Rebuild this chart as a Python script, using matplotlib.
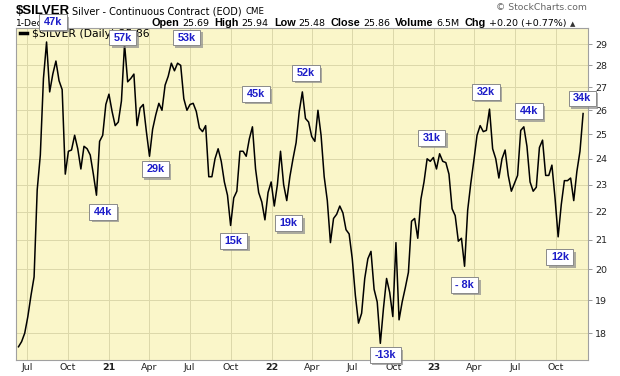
import matplotlib
matplotlib.use("Agg")
import matplotlib.pyplot as plt
import matplotlib.patheffects as pe
from matplotlib.ticker import NullLocator
import pandas as pd

# ---- weekly closes (Fridays, from 2020-06-12) ----
closes_2020 = [17.6, 17.75, 18.0, 18.5, 19.15, 19.75, 22.8, 24.15, 27.4, 29.1,
               26.8, 27.6, 28.2, 27.3, 26.9, 23.4, 24.3, 24.35, 24.95, 24.4,
               23.6, 24.5, 24.4, 24.15, 23.4, 22.6, 24.7, 24.95, 26.25]
closes_2021 = [26.7, 25.95, 25.35, 25.5, 26.4, 29.0, 27.25, 27.4, 27.6, 25.35,
               26.1, 26.25, 25.1, 24.1, 25.2, 25.8, 26.3, 26.0, 27.1, 27.5,
               28.1, 27.75, 28.1, 28.0, 26.5, 26.0, 26.25, 26.3, 25.95, 25.25,
               25.1, 25.35, 23.3, 23.3, 24.0, 24.4, 23.9, 23.1, 22.6, 21.5,
               22.5, 22.75, 24.3, 24.3, 24.1, 24.8, 25.3, 23.6, 22.7, 22.35,
               21.7, 22.7, 23.1]
closes_2022 = [22.2, 23.0, 24.3, 23.0, 22.4, 23.3, 24.0, 24.65, 25.95, 26.8,
               25.65, 25.5, 24.9, 24.7, 26.0, 24.95, 23.3, 22.4, 20.9, 21.75,
               21.9, 22.2, 21.95, 21.35, 21.2, 20.35, 19.15, 18.3, 18.6, 19.7,
               20.35, 20.6, 19.35, 18.95, 17.7, 18.75, 19.7, 19.25, 18.5, 20.9,
               18.4, 18.95, 19.4, 19.9, 21.65, 21.75, 21.05, 22.45, 23.1, 24.0,
               23.9, 24.05]
closes_2023 = [23.6, 24.2, 23.9, 23.85, 23.4, 22.1, 21.85, 20.95, 21.05, 20.1,
               22.05, 23.05, 23.95, 24.95, 25.35, 25.1, 25.15, 26.05, 24.4, 24.0,
               23.25, 24.0, 24.35, 23.35, 22.75, 23.05, 23.35, 25.15, 25.3, 24.5,
               23.1, 22.75, 22.9, 24.45, 24.75, 23.35, 23.35, 23.75, 22.5, 21.1,
               22.25, 23.15, 23.15, 23.25, 22.4, 23.5, 24.3, 25.86]

# ---- annotation boxes ----
ann_labels = ["47k", "44k", "57k", "29k", "53k", "15k", "45k", "19k", "52k",
              "-13k", "31k", "- 8k", "32k", "44k", "12k", "34k"]
ann_dates = ["2020-08-28", "2020-12-19", "2021-02-01", "2021-04-15", "2021-06-24",
             "2021-10-08", "2021-11-27", "2022-02-08", "2022-03-19", "2022-09-13",
             "2022-12-26", "2023-03-10", "2023-04-27", "2023-08-02", "2023-10-10",
             "2023-11-29"]
ann_prices = [30.07, 21.98, 29.31, 23.59, 29.31, 20.95, 26.70, 21.58, 27.65,
              17.36, 24.84, 19.49, 26.79, 25.96, 20.40, 26.51]

# ---- axes ticks ----
y_ticks = [18, 19, 20, 21, 22, 23, 24, 25, 26, 27, 28, 29]
x_tick_dates = ["2020-07-01", "2020-10-01", "2021-01-01", "2021-04-01", "2021-07-01",
                "2021-10-01", "2022-01-01", "2022-04-01", "2022-07-01", "2022-10-01",
                "2023-01-01", "2023-04-01", "2023-07-01", "2023-10-01"]
x_tick_labels = ["Jul", "Oct", "21", "Apr", "Jul", "Oct", "22", "Apr", "Jul", "Oct",
                 "23", "Apr", "Jul", "Oct"]

# ---- header quote ----
quote_names = ["Open", "High", "Low", "Close", "Volume", "Chg"]
quote_values = ["25.69", "25.94", "25.48", "25.86", "6.5M", "+0.20 (+0.77%)"]

closes = closes_2020 + closes_2021 + closes_2022 + closes_2023
dates = pd.date_range("2020-06-12", periods=len(closes), freq="W-FRI")

W, H = 620, 376
fig = plt.figure(figsize=(W / 100, H / 100), dpi=100)
fig.patch.set_facecolor("white")
ax = fig.add_axes([16 / W, 16 / H, 572 / W, 332 / H])
ax.set_facecolor("#faf6c9")

line, = ax.plot(dates, closes, color="black", lw=1.1, zorder=3)

ax.set_yscale("log")
ax.set_ylim(17.22, 29.78)
ax.set_yticks(y_ticks, [str(v) for v in y_ticks])
ax.yaxis.set_minor_locator(NullLocator())
ax.yaxis.tick_right()

ax.set_xlim(pd.Timestamp("2020-06-06 10:00"), pd.Timestamp("2023-12-12"))
ax.set_xticks(pd.to_datetime(x_tick_dates), x_tick_labels)
ax.xaxis.set_minor_locator(NullLocator())

ax.grid(True, which="major", color="#dcd8aa", lw=0.7, zorder=0)
ax.set_axisbelow(True)
for s in ax.spines.values():
    s.set_color("#a0a0a0")
    s.set_linewidth(0.8)

ax.tick_params(axis="y", which="major", length=3, width=0.6, color="#888888",
               pad=2, labelsize=6.8, labelcolor="#222222")
ax.tick_params(axis="x", which="major", length=0, pad=2.5, labelsize=6.8,
               labelcolor="#222222")
for lbl in ax.get_xticklabels():
    if lbl.get_text().isdigit():
        lbl.set_fontweight("bold")

# legend
leg = ax.legend([line], [r"\$SILVER (Daily) 25.86"], loc="upper left",
                bbox_to_anchor=(4 / 572, 1 - 1 / 332), frameon=False,
                fontsize=7.8, handlelength=0.65, handletextpad=0.45,
                borderpad=0, borderaxespad=0)
leg.get_lines()[0].set_linewidth(2.5)
leg.set_zorder(5)

# annotation boxes
for lab, d, p in zip(ann_labels, ann_dates, ann_prices):
    t = ax.text(pd.Timestamp(d), p, lab, ha="center", va="center",
                fontsize=7.8, fontweight="bold", family="Liberation Sans",
                color="#1c1cc8", zorder=10, clip_on=False,
                bbox=dict(boxstyle="square,pad=0.42", fc="white", ec="#8a8a8a",
                          lw=0.7, mutation_aspect=0.62))
    t.get_bbox_patch().set_path_effects(
        [pe.withSimplePatchShadow(offset=(1.8, -1.8), shadow_rgbFace="#8c8c8c", alpha=0.7)])

# header texts (drawn beneath the axes so the boxes can cover them)
def fx(x):
    return x / W

def fy(y):
    return 1 - y / H

fig.text(fx(16), fy(14), r"\$SILVER", fontsize=9.5, fontweight="bold",
         family="Liberation Sans", va="baseline", ha="left", zorder=-1)
fig.text(fx(72.5), fy(14), "Silver - Continuous Contract (EOD)", fontsize=7,
         va="baseline", ha="left", zorder=-1)
fig.text(fx(246), fy(14), "CME", fontsize=6.2, va="baseline", ha="left", zorder=-1)
fig.text(fx(587), fy(10), "\u00a9 StockCharts.com", fontsize=6.7, color="#666666",
         va="baseline", ha="right", zorder=-1)
fig.text(fx(16), fy(26.5), "1-Dec-2023", fontsize=6.6, va="baseline", ha="left",
         zorder=-1)

renderer = fig.canvas.get_renderer()
x = 151.7
for name, val in zip(quote_names, quote_values):
    t1 = fig.text(fx(x), fy(26), name, fontsize=7.8, fontweight="bold",
                  family="Liberation Sans", va="baseline", ha="left", zorder=-1)
    x = t1.get_window_extent(renderer).x1 + 2.5
    t2 = fig.text(fx(x), fy(26), val, fontsize=6.8, va="baseline", ha="left",
                  zorder=-1)
    x = t2.get_window_extent(renderer).x1 + 5.5
fig.text(fx(x - 2), fy(26), "\u25b2", fontsize=5, color="#333333", va="baseline",
         ha="left", zorder=-1)

fig.savefig("out.png", dpi=100, facecolor="white")
